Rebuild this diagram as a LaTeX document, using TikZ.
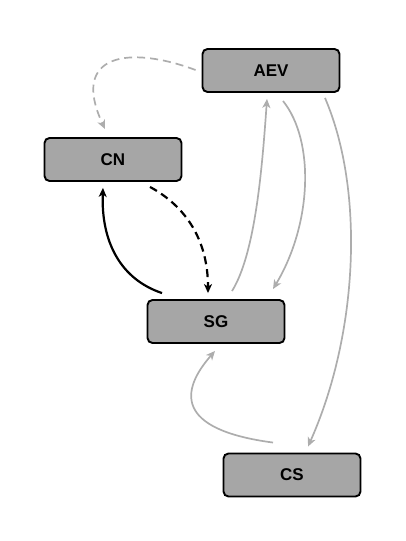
\documentclass[tikz,border=0pt]{standalone}
\usepackage{fontspec}
\setmainfont{Liberation Sans}
\usetikzlibrary{arrows.meta,calc}
\definecolor{boxfill}{HTML}{A6A6A6}
\definecolor{lightline}{HTML}{ADADAD}
\begin{document}
\begin{tikzpicture}[x=1pt,y=-1pt,
  box/.style={draw=black,line width=1.9pt,fill=boxfill,rounded corners=5pt,
    minimum width=137pt,minimum height=43pt,inner sep=0pt,
    font=\fontsize{17}{20}\selectfont\bfseries},
  blackarrow/.style={draw=black,line width=2.2pt,-{Stealth[length=9pt,width=8pt,inset=2.5pt]}},
  grayarrow/.style={draw=lightline,line width=1.7pt,-{Stealth[length=9pt,width=8pt,inset=2.5pt]}},
  dashpat/.style={dash pattern=on 8pt off 5pt}]
\useasboundingbox (0,0) rectangle (406,541);
\node[box] (AEV) at (271,70.5) {AEV};
\node[box] (CN) at (113,159.5) {CN};
\node[box] (SG) at (216,321.5) {SG};
\node[box] (CS) at (292,475) {CS};
% AEV -> CN dashed gray
\draw[grayarrow,dashpat] ($(AEV.west)+(-6,-0.5)$) .. controls +(-67,-25) and +(-35,-75) .. ($(CN.north)+(-8,-8)$);
% CN -> SG dashed black
\draw[blackarrow,dashpat] ($(CN.south)+(37,5)$) .. controls +(35,19) and +(0,-54) .. ($(SG.north)+(-8,-6)$);
% SG -> CN solid black
\draw[blackarrow] ($(SG.north)+(-54,-6)$) .. controls +(-42,-14) and +(-2,53) .. ($(CN.south)+(-10,6)$);
% SG -> AEV gray
\draw[grayarrow] ($(SG.north)+(16,-8)$) .. controls +(23,-37) and +(-5,72) .. ($(AEV.south)+(-4,6)$);
% AEV -> SG gray
\draw[grayarrow] ($(AEV.south)+(12,8)$) .. controls +(32,40) and +(39,-65) .. ($(SG.north)+(57,-10)$);
% AEV -> CS gray
\draw[grayarrow] ($(AEV.south)+(54,5)$) .. controls +(40,93) and +(50,-112) .. ($(CS.north)+(16,-6)$);
% CS -> SG gray
\draw[grayarrow] ($(CS.north)+(-19,-10)$) .. controls +(-98,-13) and +(-35,40) .. ($(SG.south)+(-1,7)$);
\end{tikzpicture}
\end{document}
